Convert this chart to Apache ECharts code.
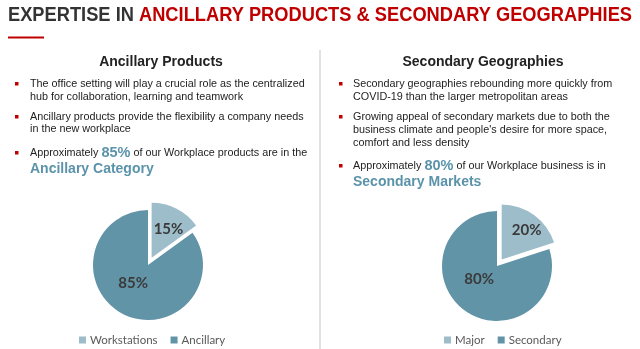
<!DOCTYPE html>
<html>
<head>
<meta charset="utf-8">
<script src="https://cdn.jsdelivr.net/npm/echarts@6/dist/echarts.min.js"></script>
<style>
  html, body { margin: 0; padding: 0; background: #fff; }
  #chart { width: 640px; height: 349px; }
</style>
</head>
<body>
<div id="chart"></div>
<script>
// Product mix (left) and geography mix (right), in percent
const productCategories = ['Workstations', 'Ancillary'];
const productShares = [15, 85];
const geoCategories = ['Major', 'Secondary'];
const geoShares = [20, 80];

const lightTeal = '#9dbdca';
const darkTeal = '#6294a7';
const accentTeal = '#5b93aa';
const red = '#c00000';
const ink = '#222222';
const bodyFont = '"Liberation Sans", Arial, sans-serif';
const chartFont = 'Lato, "Open Sans", sans-serif';

const chart = echarts.init(document.getElementById('chart'), null, { renderer: 'canvas' });

// Headline is set in a condensed bold face: squeeze regular bold to the slide width
const titleLead = 'EXPERTISE IN ';
const titleRest = 'ANCILLARY PRODUCTS & SECONDARY GEOGRAPHIES';
const titleFont = 'bold 20px ' + bodyFont;
const measureCtx = document.createElement('canvas').getContext('2d');
measureCtx.font = titleFont;
const titleWidth = measureCtx.measureText(titleLead + titleRest).width;
const titleScale = 624 / titleWidth;

function bodyText(x, y, text) {
  return {
    type: 'text', x: x, y: y,
    style: { text: text, font: '10.8px ' + bodyFont, fill: ink, textVerticalAlign: 'middle' }
  };
}
function bullet(x, y) {
  return { type: 'rect', shape: { x: x, y: y - 2, width: 3.5, height: 3.5 }, style: { fill: red } };
}
function heading(cx, y, text) {
  return {
    type: 'text', x: cx, y: y,
    style: { text: text, font: 'bold 14px ' + bodyFont, fill: ink, textAlign: 'center', textVerticalAlign: 'middle' }
  };
}
function richLine(x, y, pct, rest) {
  return {
    type: 'text', x: x, y: y,
    style: {
      text: '{a|Approximately }{b|' + pct + '}{a|' + rest + '}',
      textVerticalAlign: 'middle',
      rich: {
        a: { font: '10.8px ' + bodyFont, fill: ink, color: ink },
        b: { font: 'bold 14.5px ' + bodyFont, fill: accentTeal, color: accentTeal }
      }
    }
  };
}
function bigTeal(x, y, text) {
  return {
    type: 'text', x: x, y: y,
    style: { text: text, font: 'bold 14px ' + bodyFont, fill: accentTeal, textVerticalAlign: 'middle' }
  };
}

const graphics = [
  {
    type: 'text', x: 8, y: 15, scaleX: titleScale, scaleY: 1,
    style: {
      text: '{g|' + titleLead + '}{r|' + titleRest + '}',
      textVerticalAlign: 'middle',
      rich: {
        g: { font: titleFont, fill: '#333', color: '#333' },
        r: { font: titleFont, fill: red, color: red }
      }
    }
  },
  { type: 'rect', shape: { x: 8, y: 36.5, width: 36, height: 2 }, style: { fill: red } },
  { type: 'line', shape: { x1: 320, y1: 50, x2: 320, y2: 349 }, style: { stroke: '#d9d9d9', lineWidth: 1.5 } },

  heading(161, 62, 'Ancillary Products'),
  bullet(15, 84), bodyText(30, 84, 'The office setting will play a crucial role as the centralized'),
  bodyText(30, 97, 'hub for collaboration, learning and teamwork'),
  bullet(15, 117), bodyText(30, 117, 'Ancillary products provide the flexibility a company needs'),
  bodyText(30, 129, 'in the new workplace'),
  bullet(15, 153), richLine(30, 153, '85%', ' of our Workplace products are in the'),
  bigTeal(30, 169, 'Ancillary Category'),

  heading(483, 62, 'Secondary Geographies'),
  bullet(339, 84), bodyText(353, 84, 'Secondary geographies rebounding more quickly from'),
  bodyText(353, 97, 'COVID-19 than the larger metropolitan areas'),
  bullet(339, 117), bodyText(353, 117, 'Growing appeal of secondary markets due to both the'),
  bodyText(353, 130, "business climate and people's desire for more space,"),
  bodyText(353, 143, 'comfort and less density'),
  bullet(339, 166), richLine(353, 166, '80%', ' of our Workplace business is in'),
  bigTeal(353, 182, 'Secondary Markets')
];

// Nudges for the in-slice percentage labels, per slice
function pieSeries(names, values, center, nudges) {
  return {
    type: 'pie',
    radius: 55,
    center: center,
    startAngle: 90,
    clockwise: true,
    selectedMode: 'single',
    selectedOffset: 8,
    animation: false,
    label: {
      show: true, position: 'inside',
      formatter: '{d}%',
      fontFamily: chartFont, fontWeight: 'bold', fontSize: 15, color: '#3a3a3a'
    },
    labelLine: { show: false },
    labelLayout: function (p) {
      const n = nudges[p.dataIndex];
      return { dx: n[0], dy: n[1] };
    },
    emphasis: { disabled: true },
    data: names.map((n, i) => ({
      name: n, value: values[i], selected: i === 0,
      itemStyle: { color: i === 0 ? lightTeal : darkTeal }
    }))
  };
}

function legend(names, left) {
  return {
    data: names, left: left, top: 329,
    itemWidth: 7, itemHeight: 7, itemGap: 13,
    icon: 'rect', selectedMode: false,
    textStyle: { fontFamily: chartFont, fontSize: 11.5, color: '#595959', padding: [0, 0, 0, -1] }
  };
}

chart.setOption({
  animation: false,
  legend: [legend(productCategories, 74), legend(geoCategories, 439)],
  series: [
    pieSeries(productCategories, productShares, [148, 265], [[3, -2], [-1, -9]]),
    pieSeries(geoCategories, geoShares, [497, 266], [[7, -5], [0, -12]])
  ],
  graphic: graphics
});
</script>
</body>
</html>
